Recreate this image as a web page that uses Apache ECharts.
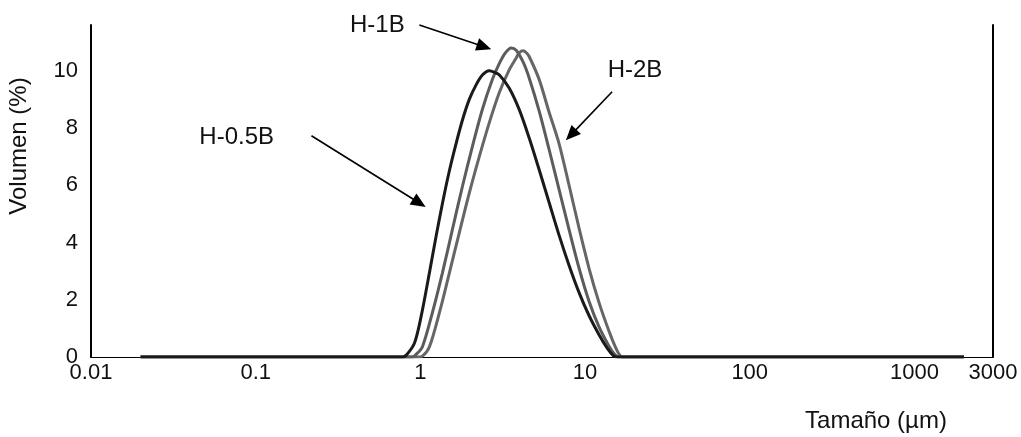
<!DOCTYPE html>
<html>
<head>
<meta charset="utf-8">
<title>Distribución de tamaño de partícula</title>
<script src="https://cdn.jsdelivr.net/npm/echarts@6/dist/echarts.min.js"></script>
<style>
  html, body { margin: 0; padding: 0; background: #fff; }
  #chart { width: 1021px; height: 437px; }
</style>
</head>
<body>
<div id="chart"></div>
<script>
// Particle size distributions (volume %) for three samples
const sizeH05 = [0.02, 0.778, 0.823, 0.920, 1.010, 1.134, 1.245, 1.365, 1.499, 1.646, 1.805, 1.982, 2.176, 2.38, 2.62, 2.81, 3.01, 3.46, 3.98, 4.58, 5.26, 6.05, 6.96, 8.00, 9.20, 10.57, 12.16, 13.60, 14.78, 15.63, 2000];
const volH05  = [0,    0,     0.07,  0.48,  1.41,  2.93,  4.21,  5.40,  6.50,  7.45,  8.30,  9.00,  9.50,  9.85, 10.0, 9.95, 9.86, 9.40, 8.65, 7.65, 6.55, 5.40, 4.25, 3.20, 2.25, 1.45,  0.78,  0.32,  0.06,  0,     0];

const sizeH1 = [0.02, 0.894, 0.946, 1.028, 1.182, 1.360, 1.563, 1.797, 2.067, 2.376, 2.732, 3.012, 3.274, 3.560, 3.818, 4.210, 4.578, 5.262, 6.050, 6.957, 7.998, 9.197, 10.57, 12.16, 13.98, 15.20, 16.07, 2000];
const volH1  = [0,    0,     0.10,  0.35,  1.54,  2.93,  4.44,  5.94,  7.34,  8.64,  9.69,  10.25, 10.62, 10.80, 10.72, 10.30, 9.75,  8.60,  7.25,  5.85,  4.45,  3.10,  1.95,  1.05,  0.38,  0.08,  0,     0];

const sizeH2 = [0.02, 0.959, 1.028, 1.134, 1.304, 1.499, 1.723, 1.982, 2.279, 2.619, 3.012, 3.462, 3.818, 4.000, 4.210, 4.400, 4.578, 5.262, 6.050, 6.957, 7.998, 9.197, 10.57, 12.16, 13.98, 15.41, 16.30, 16.99, 2000];
const volH2  = [0,    0,     0.03,  0.35,  1.54,  2.93,  4.34,  5.73,  7.00,  8.18,  9.23,  10.03, 10.45, 10.64, 10.70, 10.63, 10.50, 9.70,  8.55,  7.45,  6.00,  4.50,  3.10,  1.90,  0.90,  0.30,  0.05,  0,     0];

// Axis tick labels
const xTickLabels = ['0.01', '0.1', '1', '10', '100', '1000', '3000'];
const yTickLabels = ['0', '2', '4', '6', '8', '10'];

// Annotation labels and their arrows: [text, textX, textY, fromX, fromY, toX, toY] in data units
const annotations = [
  ['H-1B',   0.548, 11.57, 0.986, 11.60, 2.44, 10.84],
  ['H-0.5B', 0.0767, 7.69, 0.218, 7.73, 0.986, 5.38],
  ['H-2B',   20.1, 10.03, 14.6, 9.27, 8.22, 7.76]
];

const zip = (xs, ys) => xs.map((x, i) => [x, ys[i]]);
const FONT = '"Liberation Sans", Arial, sans-serif';
const FS_TICK = 22;
const FS_TEXT = 24;

const chart = echarts.init(document.getElementById('chart'), null, { renderer: 'canvas' });

function curve(name, xs, ys, color) {
  return {
    name, type: 'line', data: zip(xs, ys),
    showSymbol: false, smooth: 0.3,
    lineStyle: { color, width: 3 },
    itemStyle: { color },
    emphasis: { disabled: true },
    z: 3
  };
}

const annotationSeries = {
  name: 'anotaciones', type: 'line', data: [], silent: true,
  markLine: {
    silent: true,
    symbol: ['none', 'triangle'],
    symbolSize: [13, 15],
    label: { show: false },
    lineStyle: { color: '#000', width: 1.6, type: 'solid' },
    data: annotations.map(a => [{ coord: [a[3], a[4]] }, { coord: [a[5], a[6]] }])
  },
  markPoint: {
    silent: true,
    symbol: 'circle', symbolSize: 0,
    label: {
      show: true, position: 'inside', color: '#111',
      fontFamily: FONT, fontSize: FS_TEXT,
      formatter: p => p.name
    },
    data: annotations.map(a => ({ name: a[0], coord: [a[1], a[2]] }))
  }
};

chart.setOption({
  animation: false,
  backgroundColor: '#fff',
  grid: { left: 91, right: 28, top: 25, bottom: 80 },
  xAxis: {
    type: 'log', logBase: 10, min: 0.01, max: 3000,
    axisLine: { show: true, lineStyle: { color: '#000', width: 1.2 } },
    axisTick: { show: false },
    splitLine: { show: false },
    minorTick: { show: false },
    axisLabel: {
      margin: 5, color: '#111', fontFamily: FONT, fontSize: FS_TICK,
      showMinLabel: true, showMaxLabel: true,
      formatter: v => {
        const lg = Math.log10(v);
        let best = xTickLabels[0], d = Infinity;
        xTickLabels.forEach(t => {
          const dd = Math.abs(Math.log10(+t) - lg);
          if (dd < d) { d = dd; best = t; }
        });
        return d < 0.01 ? best : '';
      }
    }
  },
  yAxis: [{
    type: 'value', min: 0, max: 11.6, interval: 2,
    axisLine: { show: true, lineStyle: { color: '#000', width: 2 } },
    axisTick: { show: false },
    splitLine: { show: false },
    axisLabel: {
      margin: 13, color: '#111', fontFamily: FONT, fontSize: FS_TICK,
      showMaxLabel: false,
      formatter: v => {
        const s = String(Math.round(v));
        return (Math.abs(v - Math.round(v)) < 1e-6 && yTickLabels.includes(s)) ? s : '';
      }
    }
  }, {
    type: 'value', min: 0, max: 11.6, position: 'right',
    axisLine: { show: true, onZero: false, lineStyle: { color: '#000', width: 2 } },
    axisTick: { show: false },
    axisLabel: { show: false },
    splitLine: { show: false }
  }],
  graphic: [
    {
      type: 'text', x: 19, y: 146, rotation: Math.PI / 2,
      style: { text: 'Volumen (%)', fill: '#111', font: FS_TEXT + 'px ' + FONT, align: 'center', verticalAlign: 'middle' }
    },
    {
      type: 'text', x: 876, y: 421,
      style: { text: 'Tamaño (µm)', fill: '#111', font: FS_TEXT + 'px ' + FONT, align: 'center', verticalAlign: 'middle' }
    }
  ],
  series: [
    curve('H-2B', sizeH2, volH2, '#666666'),
    curve('H-1B', sizeH1, volH1, '#5c5c5c'),
    curve('H-0.5B', sizeH05, volH05, '#1a1a1a'),
    annotationSeries
  ]
});
</script>
</body>
</html>
